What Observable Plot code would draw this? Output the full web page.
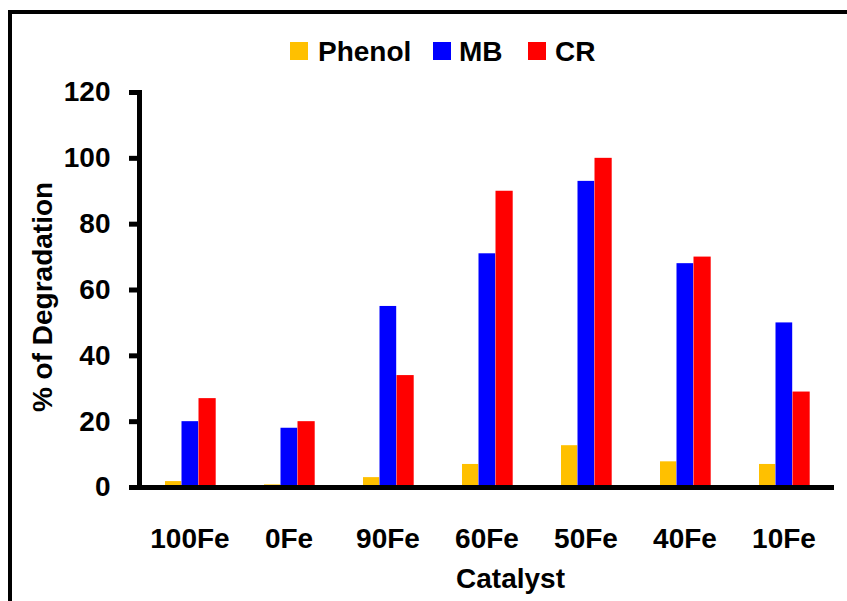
<!DOCTYPE html>
<html><head><meta charset="utf-8">
<script src="https://cdn.jsdelivr.net/npm/d3@7"></script>
<script src="https://cdn.jsdelivr.net/npm/@observablehq/plot@0.6"></script>
<style>
body{margin:0;background:#fff;}
#wrap{position:relative;width:847px;height:601px;overflow:hidden;background:#fff;font-family:"Liberation Sans",Arial,sans-serif;font-weight:bold;}
#border{position:absolute;left:8px;top:10px;width:1000px;height:1000px;border-top:4px solid #000;border-left:4px solid #000;}
#chart{position:absolute;left:0;top:0;}
.sw{position:absolute;top:42px;width:18px;height:18px;}
.lt{position:absolute;top:38px;font-size:28px;line-height:28px;color:#000;white-space:nowrap;}
</style>
</head><body>
<div id="wrap">
  <div id="border"></div>
  <div id="chart"></div>
  <div id="legend"></div>
</div>
<script>
const categories = ["100Fe","0Fe","90Fe","60Fe","50Fe","40Fe","10Fe"];
const seriesNames = ["Phenol","MB","CR"];
const seriesColors = ["#FFC000","#0000FF","#FF0000"];
const phenol = [1.8, 0.8, 3, 7, 12.7, 7.8, 7];
const mb = [20, 18, 55, 71, 93, 68, 50];
const cr = [27, 20, 34, 90, 100, 70, 29];
const yTicks = [0,20,40,60,80,100,120];

const values = [phenol, mb, cr];
const rows = [];
seriesNames.forEach((s, si) => categories.forEach((c, ci) => rows.push({cat: c, series: s, value: values[si][ci]})));

// bar placement inside each catalyst band (band width ~99.3px)
const insets = {Phenol: [25, 57.8], MB: [41.5, 40.8], CR: [58.5, 23.3]};

const font = {fontSize: 28, fontWeight: "bold", fontFamily: "Liberation Sans, Arial, sans-serif"};

const plot = Plot.plot({
  width: 847,
  height: 601,
  marginLeft: 139,
  marginRight: 13,
  marginTop: 92,
  marginBottom: 114,
  style: {background: "transparent", fontFamily: "Liberation Sans, Arial, sans-serif", overflow: "visible"},
  x: {domain: categories, padding: 0, axis: null},
  y: {domain: [0, 120], axis: null},
  color: {domain: seriesNames, range: seriesColors},
  marks: [
    ...seriesNames.map(s => Plot.barY(rows.filter(r => r.series === s), {
      x: "cat", y: "value", fill: "series",
      insetLeft: insets[s][0], insetRight: insets[s][1]
    })),
    Plot.axisY({ticks: yTicks, tickSize: 10, tickPadding: 19, strokeWidth: 5, label: null, ...font, fill: "#000"}),
    Plot.axisX({tickSize: 0, tickPadding: 41, label: null, ...font, fill: "#000"}),
    Plot.frame({anchor: "left", strokeWidth: 5, stroke: "#000"}),
    Plot.ruleY([0], {strokeWidth: 5, stroke: "#000"}),
    Plot.text(["Catalyst"], {frameAnchor: "bottom", text: d => d, dx: 23.5, dy: 81, lineAnchor: "top", textAnchor: "middle", ...font, fill: "#000"}),
    Plot.text(["% of Degradation"], {frameAnchor: "left", text: d => d, rotate: -90, dx: -96, dy: 7, lineAnchor: "middle", textAnchor: "middle", ...font, fill: "#000"})
  ]
});
document.getElementById("chart").appendChild(plot);

const legendPos = [[290, 318], [433, 459], [528, 555]];
const lg = document.getElementById("legend");
seriesNames.forEach((s, i) => {
  const sw = document.createElement("div");
  sw.className = "sw"; sw.style.left = legendPos[i][0] + "px"; sw.style.background = seriesColors[i];
  const t = document.createElement("div");
  t.className = "lt"; t.style.left = legendPos[i][1] + "px"; t.textContent = s;
  lg.appendChild(sw); lg.appendChild(t);
});
</script>
</body></html>
